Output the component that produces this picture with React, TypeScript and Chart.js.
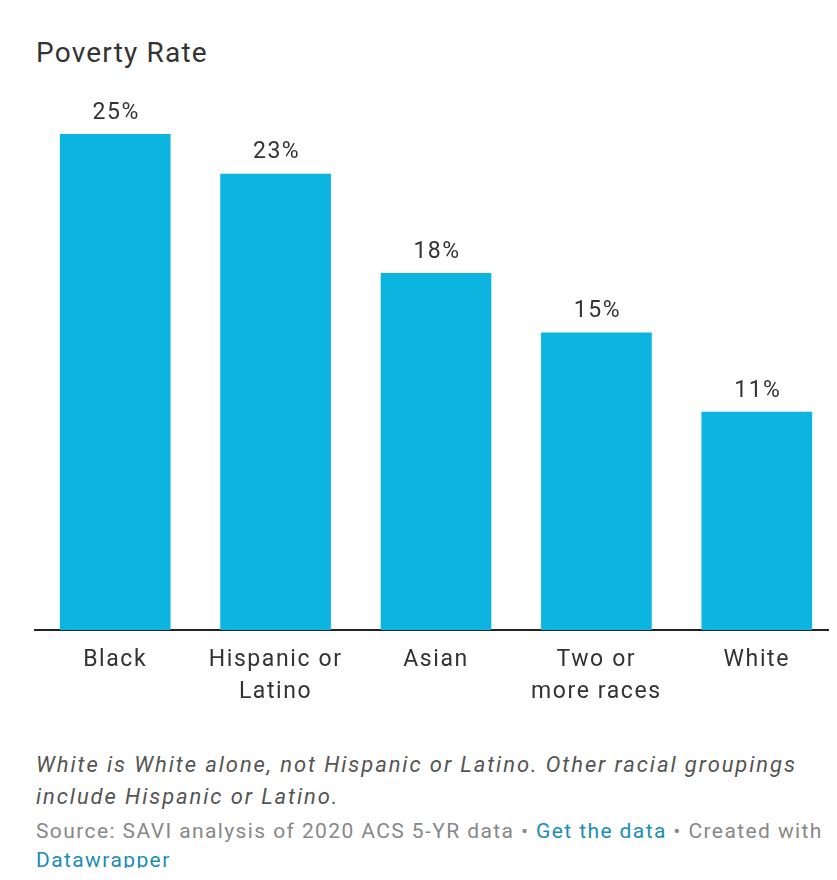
import React, { useEffect, useRef } from "react";
import { Chart, registerables } from "chart.js";

Chart.register(...registerables);

const categories: (string | string[])[] = [
  "Black",
  ["Hispanic or", "Latino"],
  "Asian",
  ["Two or", "more races"],
  "White",
];
const povertyRate: number[] = [25, 23, 18, 15, 11];
const valueLabels: string[] = ["25%", "23%", "18%", "15%", "11%"];

const FONT = "Roboto, 'Noto Sans', sans-serif";
const BAR = "#0cb5e0";

const spacingPlugin = {
  id: "spacing",
  beforeDraw(chart: any) {
    (chart.ctx as any).letterSpacing = "1.6px";
  },
};

const valueLabelPlugin = {
  id: "valueLabels",
  afterDatasetsDraw(chart: any) {
    const ctx = chart.ctx;
    const meta = chart.getDatasetMeta(0);
    ctx.save();
    (ctx as any).letterSpacing = "1.5px";
    ctx.font = `400 23px ${FONT}`;
    ctx.fillStyle = "#333";
    ctx.textAlign = "center";
    ctx.textBaseline = "middle";
    meta.data.forEach((el: any, i: number) => {
      ctx.fillText(valueLabels[i], el.x + 1, el.y - 21);
    });
    ctx.restore();
  },
};

export default function App() {
  const ref = useRef<HTMLCanvasElement | null>(null);
  useEffect(() => {
    if (!ref.current) return;
    const chart = new Chart(ref.current, {
      type: "bar",
      data: {
        labels: categories as any,
        datasets: [
          {
            data: povertyRate,
            backgroundColor: BAR,
            barPercentage: 0.69,
            categoryPercentage: 1,
          },
        ],
      },
      options: {
        animation: false,
        responsive: false,
        layout: { padding: { top: 54, left: 27, right: 0, bottom: 0 } },
        plugins: { legend: { display: false }, tooltip: { enabled: false } },
        scales: {
          x: {
            grid: { display: false, drawTicks: false },
            border: { display: true, color: "#222", width: 2 },
            ticks: {
              color: "#333",
              padding: 14,
              font: { family: FONT, size: 23, lineHeight: 1.4 },
              maxRotation: 0,
              autoSkip: false,
            },
            afterFit: (s: any) => {
              s.height = 90;
            },
          },
          y: { display: false, min: 0, max: 25 },
        },
      },
      plugins: [spacingPlugin, valueLabelPlugin],
    });
    return () => chart.destroy();
  }, []);

  return (
    <div
      style={{
        position: "relative",
        width: 829,
        height: 868,
        marginBottom: -8,
        overflow: "hidden",
        fontFamily: FONT,
      }}
    >
      <div
        style={{
          position: "absolute",
          left: 28,
          top: 28,
          fontSize: 28,
          color: "#333",
          lineHeight: "34px",
          letterSpacing: "1.2px",
          whiteSpace: "nowrap",
        }}
      >
        Poverty Rate
      </div>
      <canvas
        ref={ref}
        width={829}
        height={640}
        style={{ position: "absolute", left: 0, top: 72, width: 829, height: 640 }}
      />
      <div
        style={{
          position: "absolute",
          left: 28,
          top: 741,
          width: 800,
          fontSize: 22,
          fontStyle: "italic",
          color: "#555",
          lineHeight: "32px",
          letterSpacing: "1.9px",
          whiteSpace: "nowrap",
        }}
      >
        White is White alone, not Hispanic or Latino. Other racial groupings
        <br />
        include Hispanic or Latino.
      </div>
      <div
        style={{
          position: "absolute",
          left: 28,
          top: 809,
          width: 800,
          fontSize: 21,
          color: "#888",
          lineHeight: "29px",
          letterSpacing: "1.4px",
          whiteSpace: "nowrap",
        }}
      >
        Source: SAVI analysis of 2020 ACS 5-YR data •{" "}
        <span style={{ color: "#1b8db6" }}>Get the data</span> • Created with
        <br />
        <span style={{ color: "#1b8db6" }}>Datawrapper</span>
      </div>
    </div>
  );
}
